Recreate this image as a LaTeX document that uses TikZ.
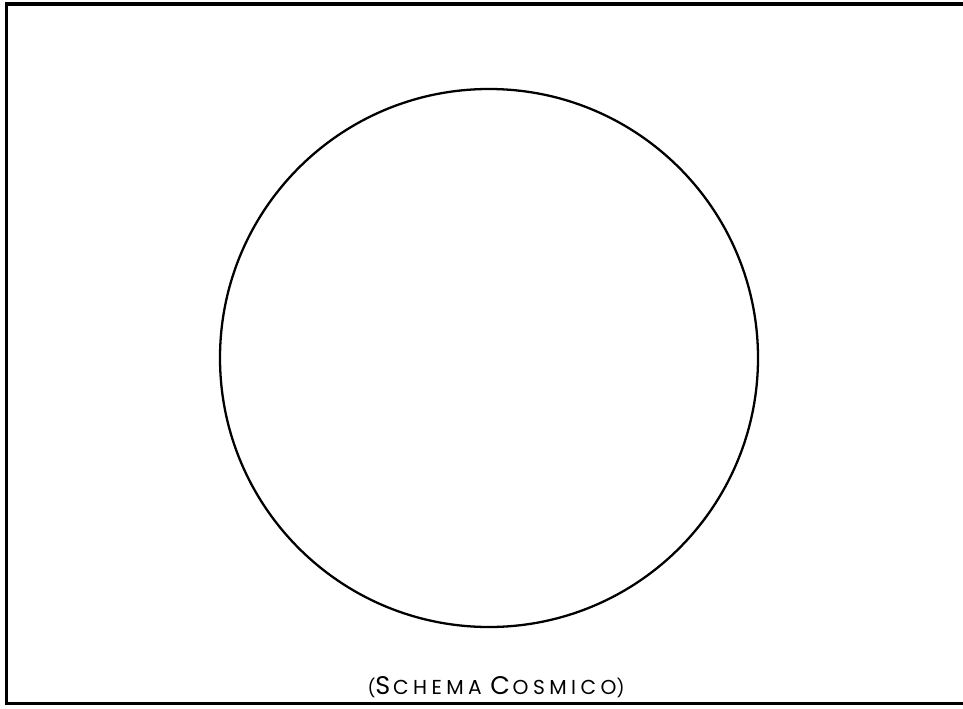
\documentclass[tikz,border=0pt]{standalone}
\usepackage{fontspec}
\setmainfont{Poppins}
\usepackage{tikz}
\usetikzlibrary{positioning}

\newcommand{\fakesc}[2]{{\fontsize{14.5}{16}\selectfont #1\kern1.5pt}{\fontsize{11.5}{14}\selectfont #2}}

\begin{document}
\begin{tikzpicture}[
        frame/.style={line width=2pt, black},
        orb/.style={circle, draw=black, line width=1.3pt, minimum size=10.76cm, inner sep=0pt},
        caption/.style={font=\addfontfeatures{LetterSpace=22}, inner sep=0pt}
    ]
    \useasboundingbox (0,0) rectangle (19.26,14.16);

    % outer frame, right side runs off the page
    \draw[frame] (19.6,14.08) -- (0.13,14.08) -- (0.13,0.09) -- (19.6,0.09);

    % the sphere
    \node[orb] (cosmos) at (9.78,7.0) {};

    % title under the sphere
    \node[caption] (title) at (9.92,0.42) {(\fakesc{S}{CHEMA} \fakesc{C}{OSMICO})};
\end{tikzpicture}
\end{document}
